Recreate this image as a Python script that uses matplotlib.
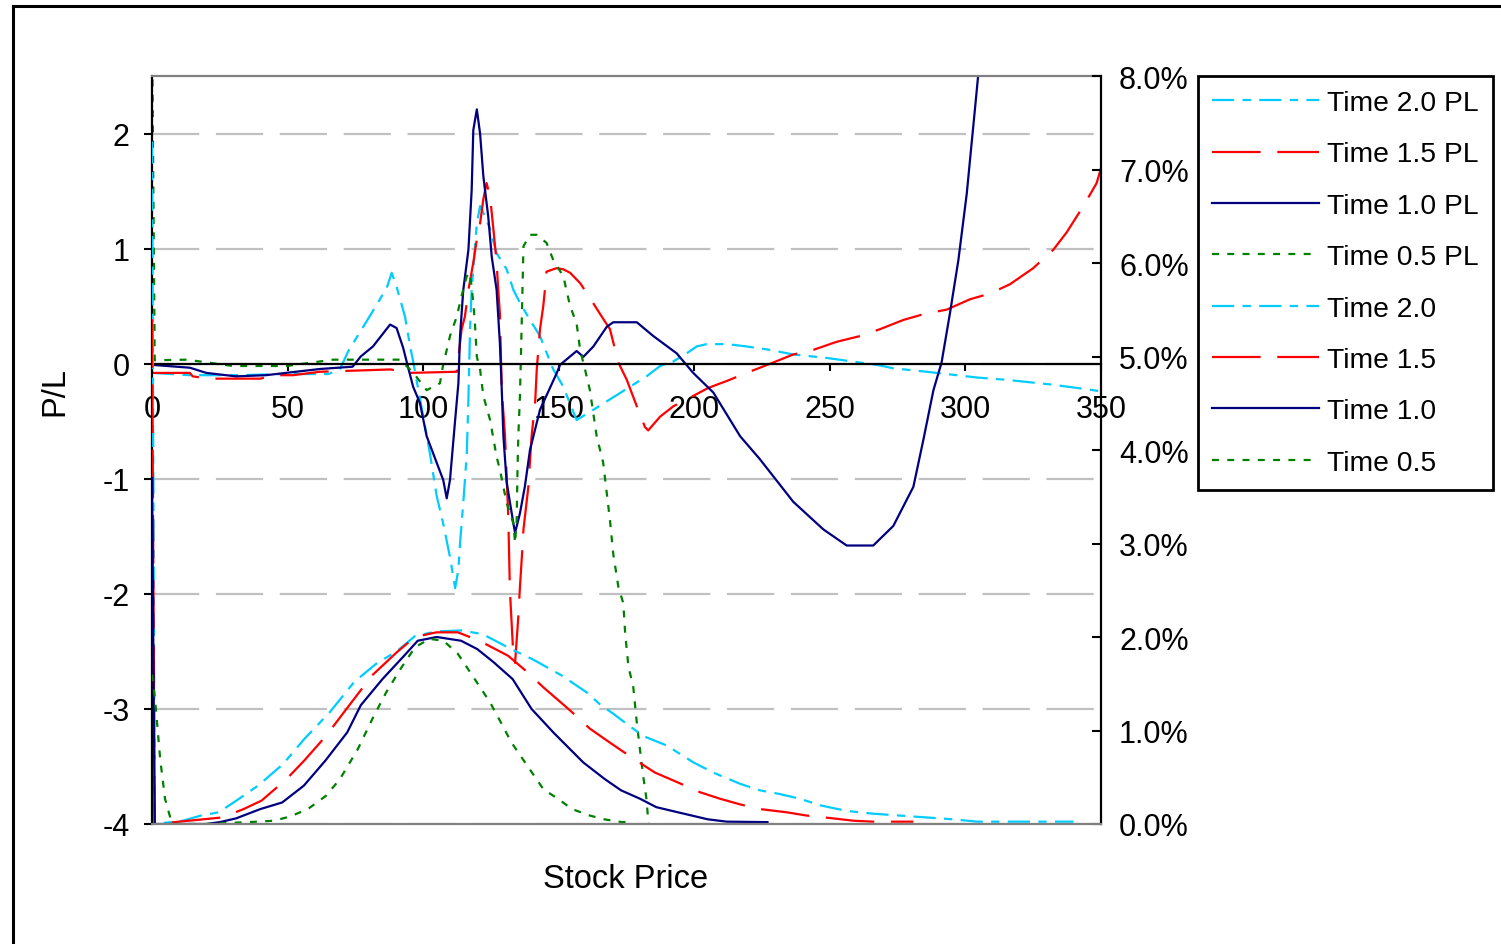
import matplotlib
matplotlib.use('Agg')
import matplotlib.pyplot as plt
from matplotlib.lines import Line2D
from matplotlib.ticker import FuncFormatter

plt.rcParams['font.family'] = ['Liberation Sans', 'DejaVu Sans']
plt.rcParams['font.size'] = 22
plt.rcParams['axes.unicode_minus'] = False
plt.rcParams['lines.scale_dashes'] = False

# P/L curves (left axis)
pl20_x = [0, 14, 30, 50, 65, 69.3, 72.4, 79.2, 86.6, 88.4, 90.2, 93.3, 95.2, 96.4, 102.5,
          105, 107.4, 109.9, 111.1, 111.8, 113, 113.6, 114.8, 116.1, 116.7, 117.3, 117.9,
          119.8, 121, 122.8, 124.7, 127.1, 130.8, 133.3, 135.7, 139.4, 143.1, 148, 151.7,
          156.6, 162.8, 168.9, 176.3, 182.4, 187.4, 192.3, 197.2, 200.9, 204.6, 212, 219.3,
          227.9, 236.5, 248.8, 261.1, 267.3, 273.4, 285.7, 296.8, 304.2, 315.2, 331.2, 341, 350]
pl20_y = [-0.08, -0.10, -0.10, -0.09, -0.09, -0.05, 0.11, 0.37, 0.66, 0.79, 0.67, 0.41, 0.15,
          0.01, -0.78, -1.15, -1.39, -1.68, -1.85, -1.95, -1.79, -1.56, -1.21, -0.78, -0.30,
          0.30, 0.64, 1.22, 1.37, 1.28, 1.17, 0.96, 0.82, 0.64, 0.53, 0.38, 0.24, -0.05, -0.20,
          -0.49, -0.40, -0.31, -0.20, -0.11, -0.02, 0.02, 0.09, 0.15, 0.17, 0.17, 0.15, 0.12,
          0.08, 0.05, 0.01, -0.01, -0.04, -0.07, -0.10, -0.12, -0.14, -0.18, -0.21, -0.24]

pl15_x = [0, 14, 15, 21, 40, 45, 52, 62, 88, 95, 112.4, 114.2, 115.4, 116.7, 118.5, 119.8,
          121, 122.2, 123.4, 124.7, 125.9, 127.1, 127.7, 128.3, 129, 130.2, 131.4, 132, 133.3,
          133.9, 135.1, 135.7, 136.4, 137, 138.8, 140, 141.3, 141.9, 143.1, 144.3, 144.9,
          145.5, 149.2, 151.7, 154.2, 157.9, 161, 165.3, 168.9, 172, 175.1, 178.8, 181.8, 183,
          187.4, 192.3, 199.6, 205.2, 212, 219.3, 229.1, 236.5, 243.9, 252.5, 261.1, 268.5,
          277.1, 284.5, 293.1, 301.7, 309.1, 316.4, 325, 332.4, 337.3, 343.5, 348.4, 350]
pl15_y = [-0.08, -0.08, -0.11, -0.13, -0.13, -0.10, -0.10, -0.07, -0.05, -0.08, -0.07, 0.30,
          0.41, 0.64, 0.88, 1.08, 1.22, 1.43, 1.57, 1.45, 1.17, 0.88, 0.64, 0.44, -0.23, -0.63,
          -1.33, -1.97, -2.55, -2.60, -2.20, -1.94, -1.68, -1.44, -1.07, -0.63, -0.34, -0.05,
          0.30, 0.50, 0.64, 0.80, 0.83, 0.82, 0.79, 0.70, 0.59, 0.43, 0.30, 0.01, -0.14, -0.37,
          -0.55, -0.58, -0.46, -0.37, -0.28, -0.21, -0.15, -0.08, 0.01, 0.08, 0.12, 0.19, 0.24,
          0.30, 0.38, 0.43, 0.47, 0.56, 0.61, 0.69, 0.83, 0.99, 1.14, 1.37, 1.57, 1.70]

pl10_x = [0, 14, 20, 31, 42, 62, 74, 77, 81.5, 87.8, 90.2, 92.6, 94, 96.3, 98.8, 101.3, 107.4,
          108.7, 109.9, 111.8, 113, 113.6, 114.8, 116.7, 117.9, 118.5, 119.8, 121, 122.2, 124,
          125.3, 127.1, 128.3, 129, 129.6, 130.8, 133.3, 133.9, 135.7, 137.5, 139.4, 143.1,
          149.3, 150.5, 156.6, 159.1, 162.8, 167.7, 170.1, 178.8, 184.9, 193.5, 199.6, 207,
          216.9, 224.2, 236.5, 247.6, 256.2, 266, 273.4, 280.8, 284.5, 288.2, 291.2, 294.3,
          297.4, 300.5, 302.3, 303.5, 304.8, 310]
pl10_y = [-0.01, -0.035, -0.08, -0.11, -0.10, -0.046, -0.026, 0.063, 0.15, 0.34, 0.31, 0.14,
          0.01, -0.20, -0.34, -0.63, -1.01, -1.17, -1.01, -0.49, -0.17, 0.24, 0.64, 0.99, 1.51,
          2.03, 2.21, 2.0, 1.63, 1.28, 0.93, 0.64, 0.18, -0.23, -0.63, -1.03, -1.39, -1.47,
          -1.30, -1.07, -0.75, -0.40, -0.08, -0.01, 0.11, 0.06, 0.15, 0.32, 0.36, 0.36, 0.24,
          0.09, -0.08, -0.25, -0.63, -0.83, -1.20, -1.44, -1.58, -1.58, -1.41, -1.07, -0.66,
          -0.23, 0.01, 0.44, 0.90, 1.48, 1.92, 2.21, 2.53, 3.5]

pl05_x = [0, 1, 12.8, 29.9, 49.7, 66.8, 91.5, 96.4, 101.3, 106.2, 107.3, 109.9, 112.4, 114.2,
          116.1, 117.3, 118.5, 119.1, 119.8, 121, 122.2, 124.7, 127.1, 128.3, 130.8, 133.3,
          133.9, 134.5, 134.8, 135.1, 135.7, 136.3, 137, 139.4, 141.9, 145.5, 148, 151.7, 154.2,
          156.6, 157.9, 159.7, 161.5, 164, 166.4, 168.9, 170.1, 172, 173.8, 174.5, 175.7, 177.5,
          178.8, 180, 181.2, 182.4, 183, 184.5]
pl05_y = [3.0, 0.03, 0.035, -0.02, -0.02, 0.035, 0.035, -0.08, -0.23, -0.17, -0.02, 0.24,
          0.41, 0.59, 0.76, 0.79, 0.53, 0.35, 0.06, -0.05, -0.28, -0.49, -0.81, -0.92, -1.21,
          -1.39, -1.56, -1.36, -0.92, -0.63, -0.28, 0.30, 1.02, 1.12, 1.12, 1.05, 0.90, 0.76,
          0.50, 0.35, 0.12, -0.05, -0.23, -0.63, -0.86, -1.36, -1.65, -1.94, -2.08, -2.34,
          -2.63, -2.81, -3.12, -3.36, -3.59, -3.79, -3.97, -4.3]

# price distributions in percent (right axis)
d20_x = [0, 1, 11.4, 18, 24.6, 31.1, 39.1, 48.3, 56.2, 65.4, 74.6, 82.5, 90.4, 97, 104.9,
         114.1, 122, 132.5, 140.5, 151, 160.2, 165.2, 170.1, 175.1, 181.2, 189.8, 199.6, 207,
         216.9, 224.2, 231.6, 239, 246.4, 256.2, 266, 275.9, 285.7, 295.5, 304.2, 339.8]
d20_y = [7.3, 0.0, 0.035, 0.09, 0.125, 0.25, 0.41, 0.64, 0.91, 1.19, 1.52, 1.71, 1.85, 2.01,
         2.06, 2.07, 2.03, 1.87, 1.76, 1.59, 1.41, 1.28, 1.18, 1.07, 0.94, 0.84, 0.66, 0.55,
         0.43, 0.36, 0.32, 0.27, 0.20, 0.14, 0.11, 0.09, 0.07, 0.05, 0.025, 0.025]

d15_x = [0, 1, 10, 25.9, 33.8, 40.4, 49.6, 56.2, 64.1, 74.6, 81.2, 90.4, 97, 104.9, 112.8,
         120.7, 131.3, 137.8, 144.4, 153.6, 161.5, 168.9, 177.5, 185.5, 193.5, 202.1, 209.5,
         216.9, 224.2, 234.1, 241.5, 251.3, 258.7, 266, 280.8]
d15_y = [5.4, 0.0, 0.025, 0.07, 0.16, 0.25, 0.48, 0.68, 0.94, 1.34, 1.59, 1.84, 2.0, 2.05,
         2.05, 1.96, 1.80, 1.64, 1.46, 1.23, 1.02, 0.87, 0.70, 0.55, 0.45, 0.34, 0.27, 0.21,
         0.16, 0.125, 0.09, 0.06, 0.035, 0.025, 0.025]

d10_x = [0, 1, 20, 25, 31, 40, 48, 56, 64, 72, 77, 85, 93, 98, 105, 114, 120, 126, 133, 140,
         148, 159, 167, 173, 180, 186, 194, 205, 212, 227]
d10_y = [3.7, 0.0, 0.0, 0.02, 0.06, 0.16, 0.23, 0.41, 0.68, 0.98, 1.27, 1.55, 1.80, 1.96, 2.0,
         1.96, 1.87, 1.73, 1.55, 1.23, 0.98, 0.66, 0.48, 0.36, 0.27, 0.18, 0.125, 0.05, 0.025,
         0.02]

d05_x = [0, 1.1, 3, 4.8, 7.4, 20, 39, 45, 50.9, 57.5, 64.1, 69.3, 75.9, 81.2, 86.4, 91.7, 97,
         102.3, 107.5, 112.8, 118.1, 124.7, 128.6, 132.6, 139.2, 144.4, 149.7, 154.9, 161.5,
         166.8, 173.4, 177.5]
d05_y = [1.6, 1.34, 0.70, 0.27, 0.0, 0.0, 0.025, 0.035, 0.08, 0.16, 0.30, 0.48, 0.80, 1.12,
         1.41, 1.66, 1.89, 1.98, 1.96, 1.82, 1.59, 1.30, 1.09, 0.87, 0.59, 0.37, 0.27, 0.16,
         0.09, 0.05, 0.02, 0.025]

x_ticks = [0, 50, 100, 150, 200, 250, 300, 350]
pl_ticks = [-4, -3, -2, -1, 0, 1, 2]
pct_ticks = [0, 1, 2, 3, 4, 5, 6, 7, 8]

c_20, c_15, c_10, c_05 = '#00CCFF', '#FF0000', '#000080', '#008000'
ls_20 = (0, (16, 6, 6, 6))
ls_15 = (0, (35, 12))
ls_10 = '-'
ls_05 = (0, (5, 6))
lw = 1.6

W, H = 1501, 945
fig = plt.figure(figsize=(W / 100, H / 100), dpi=100)
ax = fig.add_axes([152 / W, 1 - 825 / H, (1101 - 152) / W, (825 - 77) / H])
ax2 = ax.twinx()

l1, = ax.plot(pl20_x, pl20_y, color=c_20, ls=ls_20, lw=lw)
l2, = ax.plot(pl15_x, pl15_y, color=c_15, ls=ls_15, lw=lw)
l3, = ax.plot(pl10_x, pl10_y, color=c_10, ls=ls_10, lw=lw)
l4, = ax.plot(pl05_x, pl05_y, color=c_05, ls=ls_05, lw=lw)
l5, = ax2.plot(d20_x, d20_y, color=c_20, ls=ls_20, lw=lw)
l6, = ax2.plot(d15_x, d15_y, color=c_15, ls=ls_15, lw=lw)
l7, = ax2.plot(d10_x, d10_y, color=c_10, ls=ls_10, lw=lw)
l8, = ax2.plot(d05_x, d05_y, color=c_05, ls=ls_05, lw=lw)

ax.set_xlim(0, 350)
ax.set_ylim(-4, 2.5)
ax2.set_ylim(0, 8)

ax.set_xticks(x_ticks)
ax.set_yticks(pl_ticks)
ax2.set_yticks(pct_ticks)
ax2.yaxis.set_major_formatter(FuncFormatter(lambda v, p: f'{v:.1f}%'))

ax.grid(axis='y', color='#C0C0C0', lw=1.6, ls=(0, (34, 12)))
ax.set_axisbelow(True)

ax.spines['bottom'].set_position(('data', 0))
ax.spines['bottom'].set_linewidth(1.6)
ax.spines['left'].set_linewidth(1.6)
ax.spines['top'].set_color('#808080')
ax.spines['top'].set_linewidth(1.6)
ax.spines['right'].set_visible(False)
ax2.spines['left'].set_visible(False)
ax2.spines['top'].set_visible(False)
ax2.spines['bottom'].set_color('#808080')
ax2.spines['bottom'].set_linewidth(1.6)
ax2.spines['right'].set_linewidth(1.6)

ax.tick_params(axis='x', direction='out', length=5, width=1.5, pad=17)
ax.tick_params(axis='y', direction='out', length=6, width=1.5, pad=10)
ax2.tick_params(axis='y', direction='in', length=6.5, width=1.5, pad=13)

fig.text(626 / W, 1 - 880 / H, 'Stock Price', ha='center', va='center', fontsize=23.5)
fig.text(55 / W, 1 - 392 / H, 'P/L', ha='center', va='center', rotation=90, fontsize=23.5)

handles = [l1, l2, l3, l4, l5, l6, l7, l8]
labels = ['Time 2.0 PL', 'Time 1.5 PL', 'Time 1.0 PL', 'Time 0.5 PL',
          'Time 2.0', 'Time 1.5', 'Time 1.0', 'Time 0.5']
leg = fig.legend(handles, labels, loc='upper left', bbox_to_anchor=(1198 / W, 1 - 77 / H),
                 frameon=True, fancybox=False, edgecolor='black', framealpha=1,
                 borderaxespad=0, handlelength=3.8, handletextpad=0.28, labelspacing=0.9,
                 borderpad=0.5, prop={'size': 20.3})
leg.get_frame().set_linewidth(2)

# outer chart border (left and top edges)
fig.add_artist(Line2D([13 / W, 13 / W], [0, 1 - 7 / H], transform=fig.transFigure,
                      color='black', lw=2.2))
fig.add_artist(Line2D([13 / W, 1], [1 - 7 / H, 1 - 7 / H], transform=fig.transFigure,
                      color='black', lw=2.2))

fig.savefig('out.png', dpi=100)
